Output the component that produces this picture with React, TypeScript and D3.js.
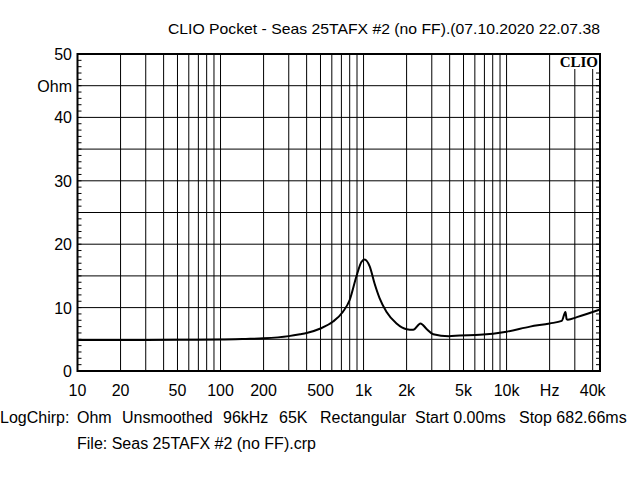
import React from "react";
import * as d3 from "d3";

const freqs = [10, 20, 50, 100, 150, 200, 300, 360, 400, 500, 612, 718, 800, 891, 966, 1018, 1104, 1194, 1294, 1445, 1700, 2000, 2225, 2500, 2770, 3070, 3940, 4700, 6500, 10000, 14600, 20000, 24300, 25800, 26300, 26800, 31000, 45000];
const ohms = [4.9, 4.9, 4.92, 4.95, 5.05, 5.15, 5.5, 5.8, 6.0, 6.7, 7.8, 9.35, 11.2, 14.9, 17.2, 17.6, 16.5, 13.8, 11.5, 9.35, 7.5, 6.6, 6.5, 7.5, 6.6, 5.8, 5.5, 5.6, 5.7, 6.2, 7.0, 7.5, 7.9, 9.3, 8.2, 8.1, 8.5, 9.7];

const xTickValues = [10, 20, 50, 100, 200, 500, 1000, 2000, 5000, 10000, 20000, 40000];
const xTickLabels = ["10", "20", "50", "100", "200", "500", "1k", "2k", "5k", "10k", "Hz", "40k"];
const yTickValues = [0, 10, 20, 30, 40, 45, 50];
const yTickLabels = ["0", "10", "20", "30", "40", "Ohm", "50"];

const title = "CLIO Pocket - Seas 25TAFX #2 (no FF).(07.10.2020 22.07.38";
const infoWords = ["LogChirp:", "Ohm", "Unsmoothed", "96kHz", "65K", "Rectangular", "Start 0.00ms", "Stop 682.66ms"];
const infoX = [0, 77, 122, 223, 279, 320, 415, 519];
const fileLine = "File: Seas 25TAFX #2 (no FF).crp";

const FONT = "'Liberation Sans', Arial, sans-serif";

export default function App() {
  const L = 77.5, R = 600, T = 54, B = 371;
  const x = d3.scaleLog().domain([10, 45000]).range([L, R]);
  const y = d3.scaleLinear().domain([0, 50]).range([B, T]);

  const gridFreqs: number[] = [];
  for (let dec = 10; dec <= 10000; dec *= 10) {
    for (let m = 1; m <= 9; m++) {
      const f = dec * m;
      if (f > 10 && f < 45000) gridFreqs.push(f);
    }
  }
  const gridOhms = d3.range(5, 50, 5);
  const minorOhms = d3.range(1, 50, 1);

  const data = freqs.map((f, i) => [f, ohms[i]] as [number, number]);
  const line = d3
    .line<[number, number]>()
    .x((d) => x(d[0]))
    .y((d) => y(d[1]))
    .curve(d3.curveMonotoneX);

  return (
    <svg width={640} height={480} style={{ position: "absolute", left: 0, top: 0, background: "#fff" }} fontFamily={FONT}>
      <rect x={0} y={0} width={640} height={480} fill="#fff" />
      <text x={168} y={34} fontSize={15} textLength={432} lengthAdjust="spacingAndGlyphs" fill="#000">
        {title}
      </text>
      {gridFreqs.map((f) => (
        <line key={"vx" + f} x1={x(f)} x2={x(f)} y1={T} y2={B} stroke="#000" strokeWidth={1} />
      ))}
      {gridOhms.map((o) => (
        <line key={"hy" + o} x1={L} x2={R} y1={y(o)} y2={y(o)} stroke="#000" strokeWidth={1} />
      ))}
      {minorOhms.map((o) => (
        <g key={"mt" + o}>
          <line x1={L} x2={L + 4} y1={y(o)} y2={y(o)} stroke="#000" strokeWidth={1} />
          <line x1={R - 4} x2={R} y1={y(o)} y2={y(o)} stroke="#000" strokeWidth={1} />
        </g>
      ))}
      <rect x={555} y={T + 1} width={44} height={14} fill="#fff" />
      <text x={598} y={67} fontSize={15} fontWeight="bold" fontFamily="'Liberation Serif', 'Times New Roman', serif" textAnchor="end" fill="#000">
        CLIO
      </text>
      <path d={line(data) || ""} fill="none" stroke="#000" strokeWidth={2} strokeLinejoin="round" />
      <rect x={L} y={T} width={R - L} height={B - T} fill="none" stroke="#000" strokeWidth={2} />
      {yTickValues.map((v, i) => (
        <text key={"yl" + v} x={72} y={y(v) + 6} fontSize={16} textAnchor="end" fill="#000">
          {yTickLabels[i]}
        </text>
      ))}
      {xTickValues.map((v, i) => (
        <text key={"xl" + v} x={x(v)} y={396} fontSize={16} textAnchor="middle" fill="#000">
          {xTickLabels[i]}
        </text>
      ))}
      {infoWords.map((w, i) => (
        <text key={"iw" + i} x={infoX[i]} y={423} fontSize={16} fill="#000">
          {w}
        </text>
      ))}
      <text x={77} y={449} fontSize={16} fill="#000">
        {fileLine}
      </text>
    </svg>
  );
}
